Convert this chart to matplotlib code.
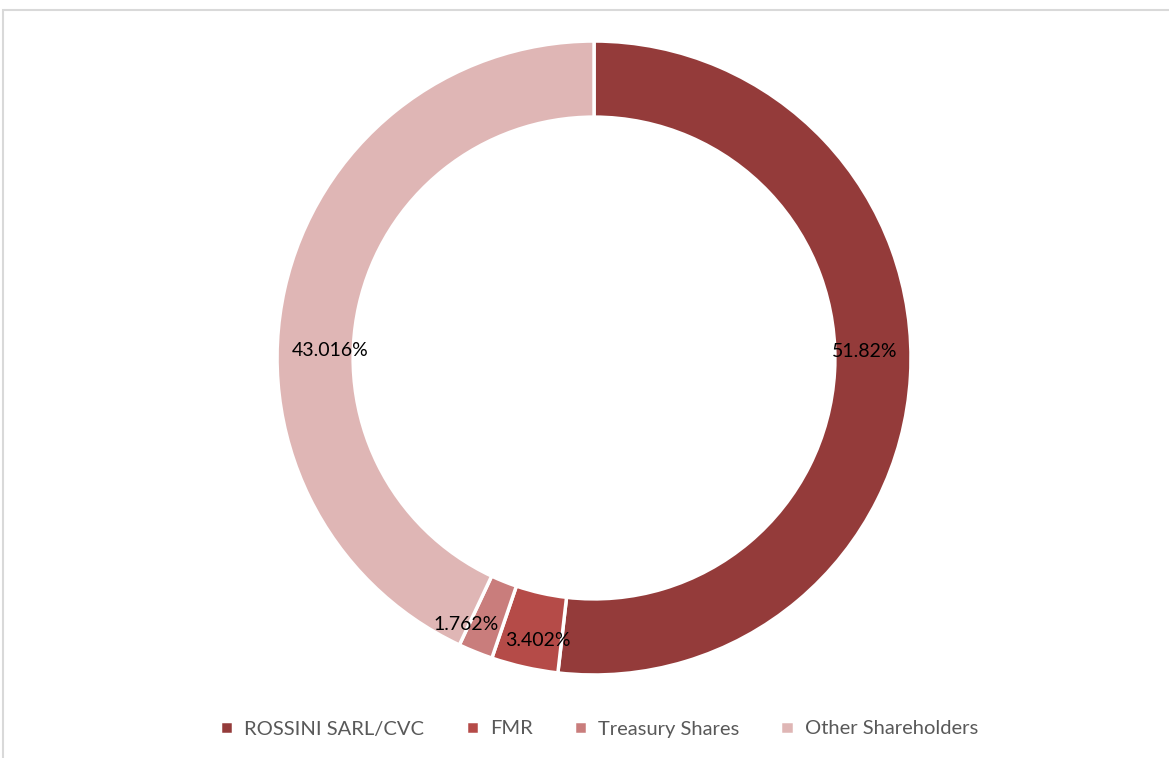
import numpy as np
import matplotlib.pyplot as plt
from matplotlib.patches import Rectangle

# Shareholder structure
holders = ["ROSSINI SARL/CVC", "FMR", "Treasury Shares", "Other Shareholders"]
shares = [51.82, 3.402, 1.762, 43.016]
labels = ["51.82%", "3.402%", "1.762%", "43.016%"]
colors = ["#943B3A", "#B54B48", "#C97D7C", "#DFB6B5"]
# label anchor points (x, y) in pie units, as placed in the original
label_pos = [(0.855, 0.02), (-0.177, -0.89), (-0.405, -0.842), (-0.833, 0.025)]

plt.rcParams['font.family'] = ['Lato', 'DejaVu Sans']

fig = plt.figure(figsize=(11.69, 7.58), dpi=100)
fig.patches.append(Rectangle((3 / 1169, -0.01), 1.2, (758 - 10) / 758 + 0.01,
                             transform=fig.transFigure, fill=False,
                             edgecolor="#D9D9D9", linewidth=1.5))

ax = fig.add_axes([0.237, 0.1095, 0.5423, 0.8364])
wedges, _ = ax.pie(shares, colors=colors, startangle=90, counterclock=False,
                   radius=1.0, wedgeprops=dict(width=0.24, edgecolor="white", linewidth=2.5))

for (x, y), lab in zip(label_pos, labels):
    ax.text(x, y, lab, ha="center", va="center", fontsize=14, color="black")
ax.set_xlim(-1, 1)
ax.set_ylim(-1, 1)
ax.set_aspect("equal")

fig.legend(wedges, holders, loc="center", bbox_to_anchor=(599 / 1169, 1 - 729 / 758),
           ncol=4, frameon=False, fontsize=14.5, labelcolor="#595959",
           handlelength=0.65, handleheight=0.65, handletextpad=0.55, columnspacing=2.05)

fig.savefig("out.png", dpi=100)
